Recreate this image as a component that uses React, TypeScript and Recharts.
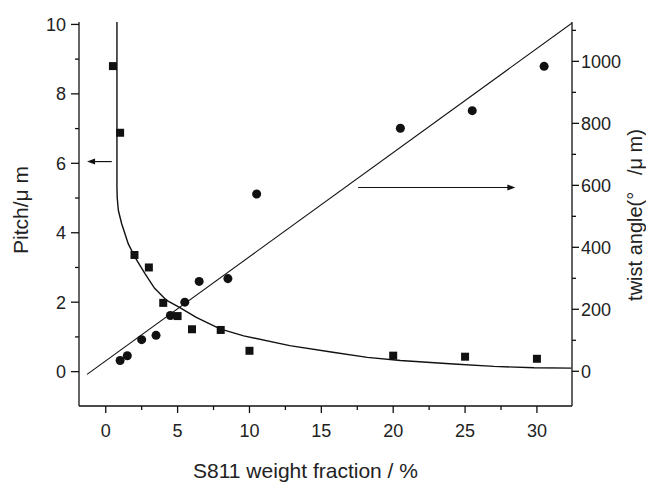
import { ComposedChart, XAxis, YAxis, Line, Scatter, ReferenceLine } from "recharts";

// measured points: pitch (squares, left axis)
const pitchX = [0.5, 1, 2, 3, 4, 5, 6, 8, 10, 20, 25, 30];
const pitchY = [8.8, 6.88, 3.36, 3.0, 1.98, 1.6, 1.22, 1.2, 0.6, 0.46, 0.43, 0.37];

// measured points: twist angle (circles, right axis)
const twistX = [1, 1.5, 2.5, 3.5, 4.5, 5.5, 6.5, 8.5, 10.5, 20.5, 25.5, 30.5];
const twistY = [35, 50, 102, 116, 180, 223, 290, 299, 572, 784, 841, 984];

// fitted curves
const pitchFitX = [0.78, 0.78, 0.78, 0.8, 0.88, 1.11, 1.57, 2.04, 2.73, 3.4, 4.24, 5.1, 6.3, 7.95, 9.6, 12.8, 15.8, 18.2, 20.5, 24.2, 27, 29.8, 32.4];
const pitchFitY = [10.1, 8.0, 5.3, 5.0, 4.64, 4.26, 3.68, 3.29, 2.82, 2.4, 2.05, 1.86, 1.56, 1.23, 1.03, 0.75, 0.56, 0.41, 0.32, 0.22, 0.15, 0.11, 0.1];
const twistFitX = [-1.3, 32.45];
const twistFitY = [-10, 1124];

// arrows pointing to each axis
const leftArrowX = [0.42, -1.3];
const leftArrowY = 6.05;
const rightArrowX = [17.56, 28.5];
const rightArrowY = 593;

const xTicks = [0, 2.5, 5, 7.5, 10, 12.5, 15, 17.5, 20, 22.5, 25, 27.5, 30];
const leftTicks = [0, 1, 2, 3, 4, 5, 6, 7, 8, 9, 10];
const rightTicks = [0, 100, 200, 300, 400, 500, 600, 700, 800, 900, 1000, 1100];

const pitchPts = pitchX.map((x, i) => ({ x, y: pitchY[i] }));
const twistPts = twistX.map((x, i) => ({ x, y: twistY[i] }));
const pitchFit = pitchFitX.map((x, i) => ({ x, y: pitchFitY[i] }));
const twistFit = twistFitX.map((x, i) => ({ x, y: twistFitY[i] }));

const font = "'Liberation Sans', Arial, sans-serif";
const ink = "#111";
const txt = "#222";

function XTick({ x, y, payload }: any) {
  const major = payload.value % 5 === 0;
  return (
    <g>
      <line x1={x} x2={x} y1={y} y2={y + (major ? 7 : 4)} stroke={ink} strokeWidth={1.3} />
      {major && (
        <text x={x} y={y + 31} textAnchor="middle" fontSize={18} fill={txt} fontFamily={font}>
          {payload.value}
        </text>
      )}
    </g>
  );
}

function LeftTick({ x, y, payload }: any) {
  const major = payload.value % 2 === 0;
  return (
    <g>
      <line x1={x} x2={x - (major ? 8 : 4)} y1={y} y2={y} stroke={ink} strokeWidth={1.3} />
      {major && (
        <text x={x - 13} y={y + 6.5} textAnchor="end" fontSize={18} fill={txt} fontFamily={font}>
          {payload.value}
        </text>
      )}
    </g>
  );
}

function RightTick({ x, y, payload }: any) {
  const major = payload.value % 200 === 0;
  return (
    <g>
      <line x1={x} x2={x + (major ? 7 : 4)} y1={y} y2={y} stroke={ink} strokeWidth={1.3} />
      {major && (
        <text x={x + 9} y={y + 6.5} textAnchor="start" fontSize={18} fill={txt} fontFamily={font}>
          {payload.value}
        </text>
      )}
    </g>
  );
}

function Arrow(props: any) {
  const { x1, y1, x2, y2 } = props;
  const dir = x2 > x1 ? 1 : -1;
  return (
    <g>
      <line x1={x1} y1={y1} x2={x2 - dir * 4} y2={y2} stroke={ink} strokeWidth={1.2} />
      <polygon
        points={`${x2},${y2} ${x2 - dir * 8},${y2 - 3} ${x2 - dir * 8},${y2 + 3}`}
        fill={ink}
      />
    </g>
  );
}

export default function App() {
  return (
    <div style={{ width: 646, height: 483, background: "#fff" }}>
      <style>{"body{margin:0}"}</style>
      <ComposedChart width={646} height={483} margin={{ top: 22, right: 0, bottom: 0, left: 0 }}>
        <XAxis
          dataKey="x"
          type="number"
          domain={[-1.86, 32.44]}
          allowDataOverflow
          ticks={xTicks}
          interval={0}
          tick={XTick}
          tickLine={false}
          tickSize={0}
          tickMargin={0}
          axisLine={{ stroke: ink, strokeWidth: 1.3 }}
          height={77}
          label={{
            content: (p: any) => (
              <text
                x={p.viewBox.x + p.viewBox.width / 2 - 20}
                y={p.viewBox.y + 72}
                textAnchor="middle"
                fontSize={21}
                fill={txt}
                fontFamily={font}
              >
                S811 weight fraction / %
              </text>
            ),
          }}
        />
        <YAxis
          yAxisId="left"
          dataKey="y"
          orientation="left"
          type="number"
          domain={[-0.99, 10.07]}
          allowDataOverflow
          ticks={leftTicks}
          interval={0}
          tick={LeftTick}
          tickLine={false}
          tickSize={0}
          tickMargin={0}
          axisLine={{ stroke: ink, strokeWidth: 1.3 }}
          width={79}
          label={{
            content: (p: any) => (
              <text
                x={20}
                y={p.viewBox.y + 188}
                transform={`rotate(-90 20 ${p.viewBox.y + 188})`}
                textAnchor="middle"
                dominantBaseline="central"
                fontSize={21}
                fill={txt}
                fontFamily={font}
              >
                Pitch/μ m
              </text>
            ),
          }}
        />
        <YAxis
          yAxisId="right"
          dataKey="y"
          orientation="right"
          type="number"
          domain={[-112, 1127]}
          allowDataOverflow
          ticks={rightTicks}
          interval={0}
          tick={RightTick}
          tickLine={false}
          tickSize={0}
          tickMargin={0}
          axisLine={{ stroke: ink, strokeWidth: 1.3 }}
          width={74}
          label={{
            content: (p: any) => (
              <text
                x={p.viewBox.x + 63}
                y={p.viewBox.y + 193}
                transform={`rotate(-90 ${p.viewBox.x + 63} ${p.viewBox.y + 193})`}
                textAnchor="middle"
                dominantBaseline="central"
                fontSize={20}
                fill={txt}
                fontFamily={font}
              >
                {"twist angle(°\u00a0\u00a0\u00a0/μ m)"}
              </text>
            ),
          }}
        />
        <Line
          data={pitchFit}
          dataKey="y"
          yAxisId="left"
          type="linear"
          dot={false}
          stroke={ink}
          strokeWidth={1.4}
          isAnimationActive={false}
        />
        <Line
          data={twistFit}
          dataKey="y"
          yAxisId="right"
          type="linear"
          dot={false}
          stroke={ink}
          strokeWidth={1.1}
          isAnimationActive={false}
        />
        <Scatter data={pitchPts} dataKey="y" yAxisId="left" shape="square" fill={ink} isAnimationActive={false} />
        <Scatter data={twistPts} dataKey="y" yAxisId="right" shape="circle" fill={ink} isAnimationActive={false} />
        <ReferenceLine
          yAxisId="left"
          segment={[
            { x: leftArrowX[0], y: leftArrowY },
            { x: leftArrowX[1], y: leftArrowY },
          ]}
          shape={Arrow}
        />
        <ReferenceLine
          yAxisId="right"
          segment={[
            { x: rightArrowX[0], y: rightArrowY },
            { x: rightArrowX[1], y: rightArrowY },
          ]}
          shape={Arrow}
        />
      </ComposedChart>
    </div>
  );
}
